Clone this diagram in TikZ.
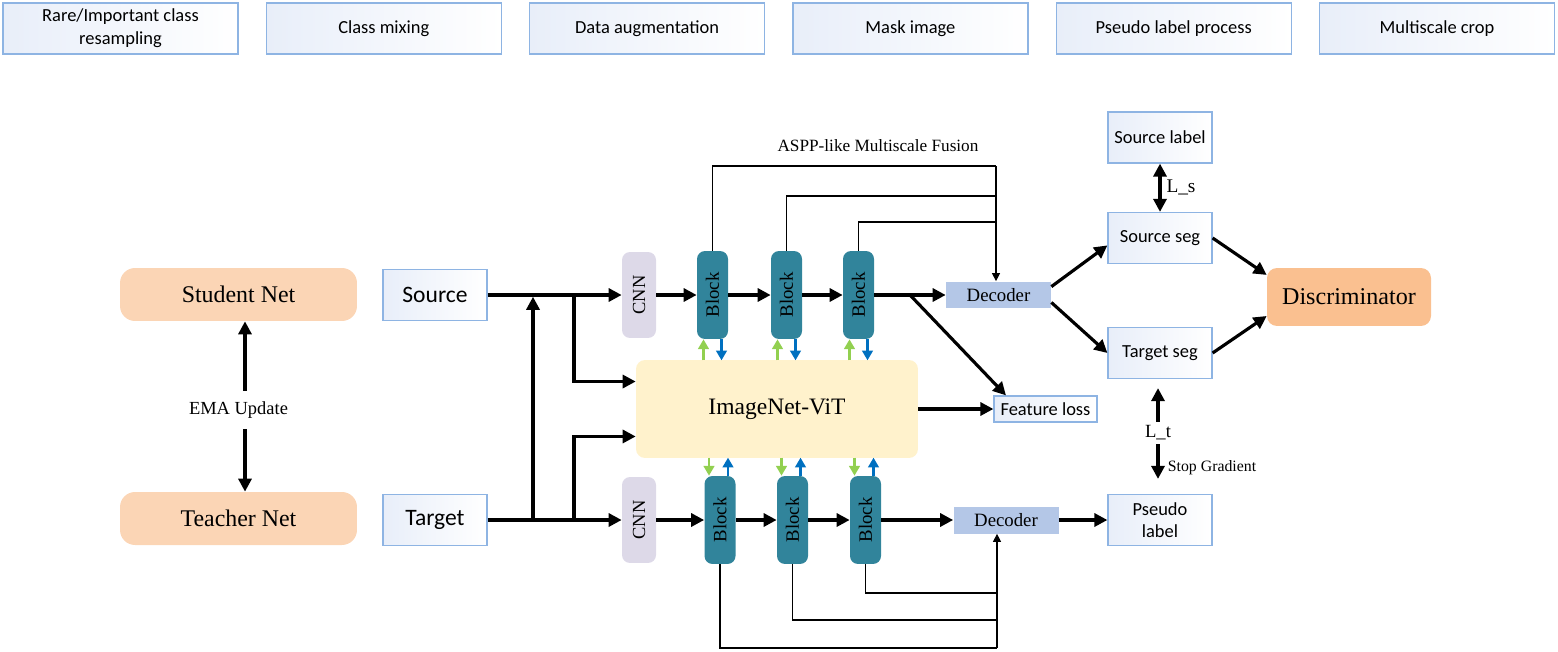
\documentclass[tikz,border=0pt]{standalone}
\usepackage{fontspec}
\usepackage{graphicx}
\setmainfont{Liberation Serif}
\newfontfamily\boxfont{Carlito}
\usetikzlibrary{arrows.meta}

\definecolor{boxline}{RGB}{142,180,227}
\definecolor{boxtint}{RGB}{232,238,249}
\definecolor{peach}{RGB}{251,213,181}
\definecolor{discfill}{RGB}{250,192,144}
\definecolor{cnnfill}{RGB}{221,217,232}
\definecolor{blockfill}{RGB}{49,132,155}
\definecolor{decfill}{RGB}{180,199,231}
\definecolor{vitfill}{RGB}{255,242,204}
\definecolor{gup}{RGB}{146,208,80}
\definecolor{bdown}{RGB}{0,112,192}

\tikzset{
  lbox/.style={draw=boxline, line width=0.7pt, left color=boxtint, right color=white,
    inner sep=0pt, align=center, font=\boxfont\fontsize{10.5}{13}\selectfont},
  segsize/.style={minimum width=2.08cm, minimum height=1.02cm},
  netbox/.style={fill=peach, rounded corners=0.3cm, minimum width=4.74cm,
    minimum height=1.06cm, font=\fontsize{13.6}{16}\selectfont},
  cnnbox/.style={fill=cnnfill, rounded corners=0.16cm, minimum width=0.68cm,
    minimum height=1.72cm, inner sep=0pt, font=\fontsize{10.5}{12}\selectfont},
  blockbox/.style={fill=blockfill, rounded corners=0.16cm, minimum width=0.62cm,
    minimum height=1.76cm, inner sep=0pt, font=\fontsize{10.7}{12}\selectfont},
  decbox/.style={fill=decfill, minimum width=2.1cm, minimum height=0.54cm,
    inner sep=0pt, font=\fontsize{10.7}{12}\selectfont},
  vitbox/.style={fill=vitfill, rounded corners=0.18cm, minimum width=5.64cm,
    minimum height=1.96cm, font=\fontsize{13.4}{16}\selectfont},
  discbox/.style={fill=discfill, rounded corners=0.2cm, minimum width=3.28cm,
    minimum height=1.16cm, font=\fontsize{13.7}{16}\selectfont},
  flow/.style={line width=1.8pt, -{Triangle[length=7.4pt,width=7.4pt]}},
  fuse/.style={line width=0.6pt},
  fusearr/.style={line width=0.6pt, -{Triangle[length=4.6pt,width=4.6pt]}},
  garr/.style={draw=gup, line width=1.3pt, -{Triangle[length=5.5pt,width=6pt]}},
  barr/.style={draw=bdown, line width=1.3pt, -{Triangle[length=5.5pt,width=6pt]}}
}

\begin{document}
\begin{tikzpicture}[x=0.02cm,y=-0.02cm]
  \useasboundingbox (0,0) rectangle (1558,652);

  % augmentation row
  \foreach \i/\t in {0/{Rare/Important class\\resampling},1/{Class mixing},
      2/{Data augmentation},3/{Mask image},4/{Pseudo label process},5/{Multiscale crop}}
    \node[lbox, minimum width=4.7cm, minimum height=1.02cm] (aug\i) at (120.5+263.3*\i,28.5) {\t};

  % student / teacher
  \node[netbox] (student) at (238.5,294.5) {Student Net};
  \node[netbox] (teacher) at (238.5,518.5) {Teacher Net};
  \node[inner sep=6pt, font=\fontsize{10.5}{12}\selectfont] (ema) at (238.5,410) {EMA Update};
  \draw[flow] ([xshift=0.13cm]ema.north) -- ([xshift=0.13cm]student.south);
  \draw[flow] ([xshift=0.13cm]ema.south) -- ([xshift=0.13cm]teacher.north);

  \node[lbox, segsize, font=\boxfont\fontsize{13.4}{15}\selectfont] (src) at (435,295) {Source};
  \node[lbox, segsize, font=\boxfont\fontsize{13.4}{15}\selectfont] (tgt) at (435,520) {Target};

  \node[cnnbox] (cnnA) at (639,295) {\rotatebox{90}{CNN}};
  \node[cnnbox] (cnnB) at (639,520) {\rotatebox{90}{CNN}};
  \foreach \b/\x in {1/712.5,2/786.5,3/858.5}
    \node[blockbox] (blkA\b) at (\x,295) {\rotatebox{90}{Block}};
  \foreach \b/\x in {1/720,2/792.5,3/865.5}
    \node[blockbox] (blkB\b) at (\x,520) {\rotatebox{90}{Block}};
  \node[decbox] (decA) at (998.5,295) {Decoder};
  \node[decbox] (decB) at (1006,520) {Decoder};
  \node[vitbox] (vit) at (777,409) {ImageNet-ViT};
  \node[lbox, minimum width=2.06cm, minimum height=0.52cm] (feat) at (1045.5,409) {Feature loss};

  \node[lbox, segsize] (slab) at (1160,137.5) {Source label};
  \node[lbox, segsize] (sseg) at (1160,238) {Source seg};
  \node[lbox, segsize] (tseg) at (1160,353) {Target seg};
  \node[lbox, segsize, font=\boxfont\fontsize{10.5}{12.5}\selectfont] (pseudo) at (1160,520) {Pseudo\\label};
  \node[discbox] (disc) at (1349,297) {Discriminator};

  \node[font=\fontsize{9.8}{12}\selectfont] (aspp) at (878,146) {ASPP-like Multiscale Fusion};
  \node[font=\fontsize{11}{12}\selectfont] (ls) at (1181,187) {L\_s};
  \node[inner sep=2pt, font=\fontsize{10.6}{12}\selectfont] (lt) at (1158,433) {L\_t};
  \node[font=\fontsize{9}{11}\selectfont] (stop) at (1212,468) {Stop Gradient};

  \coordinate (jA) at (533,520);
  \coordinate (jB) at (574,295);
  \coordinate (jC) at (574,520);
  \coordinate (jD) at (910,295);
  \coordinate (fuseA) at (996,166);
  \coordinate (fuseB) at (997,648);

  % inputs
  \draw[flow] (src) -- (cnnA);
  \draw[flow] (tgt) -- (cnnB);
  \draw[flow, shorten >=1pt] (jA) -- (jA |- src.east);
  \draw[flow] (jB) |- (vit.169);
  \draw[flow] (jC) |- (vit.191);

  % student branch
  \draw[flow] (cnnA) -- (blkA1);
  \draw[flow] (blkA1) -- (blkA2);
  \draw[flow] (blkA2) -- (blkA3);
  \draw[flow] (blkA3) -- (decA);
  \draw[flow] (jD) -- (feat.161);
  \draw[flow] (vit) -- (feat);

  % teacher branch
  \draw[flow] (cnnB) -- (blkB1);
  \draw[flow] (blkB1) -- (blkB2);
  \draw[flow] (blkB2) -- (blkB3);
  \draw[flow] (blkB3) -- (decB);
  \draw[flow] (decB) -- (pseudo);

  % vit exchange
  \foreach \b in {1,2,3} {
    \draw[garr] (blkA\b.south) ++(-9,21) -- ++(0,-21);
    \draw[barr] (blkA\b.south) ++(9,0) -- ++(0,21);
    \draw[garr] (blkB\b.north) ++(-11,-18) -- ++(0,18);
    \draw[barr] (blkB\b.north) ++(8,0) -- ++(0,-18);
  }

  % multiscale fusion
  \foreach \b/\h in {1/166,2/196,3/222}
    \draw[fuse] (blkA\b.north) |- (996,\h);
  \draw[fusearr] (fuseA) -- (fuseA |- decA.north);
  \foreach \b/\h in {3/593,2/620,1/648}
    \draw[fuse] (blkB\b.south) |- (997,\h);
  \draw[fusearr] (fuseB) -- (fuseB |- decB.south);

  % outputs
  \draw[flow] (decA.9) -- (sseg.188);
  \draw[flow] (decA.-8) -- (tseg.west);
  \draw[flow] (sseg.east) -- (disc.165);
  \draw[flow] (tseg.east) -- (disc.193);
  \draw[flow, {Triangle[length=7.4pt,width=7.4pt]}-{Triangle[length=7.4pt,width=7.4pt]}] (slab) -- (sseg);
  \draw[flow, shorten >=0.18cm] (lt.north) -- (lt.north |- tseg.south);
  \draw[flow, shorten >=0.3cm] (lt.south) -- (lt.south |- pseudo.north);
\end{tikzpicture}
\end{document}
